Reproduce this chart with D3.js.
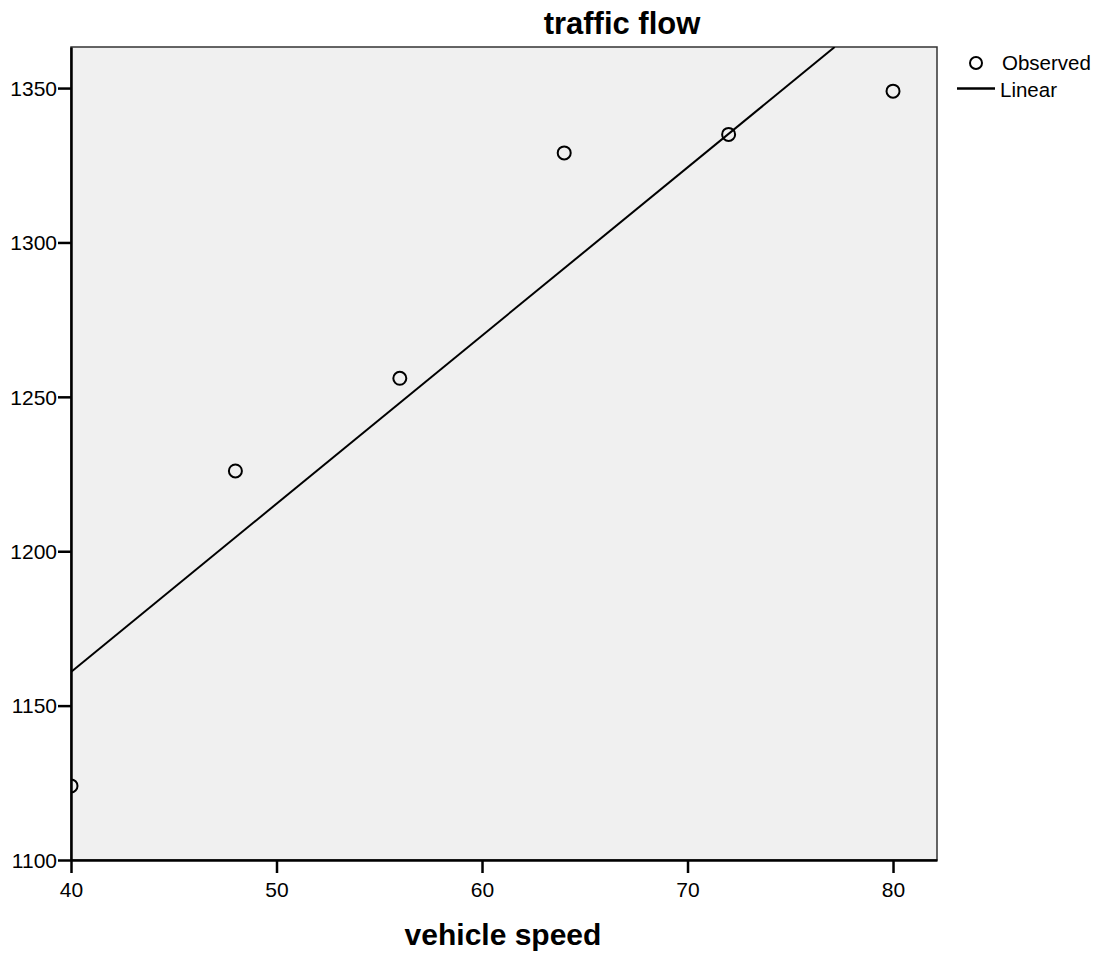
<!DOCTYPE html>
<html>
<head>
<meta charset="utf-8">
<script src="https://cdn.jsdelivr.net/npm/d3@7"></script>
<style>
  body { margin: 0; background: #fff; }
  text { font-family: "Liberation Sans", Arial, sans-serif; }
</style>
</head>
<body>
<svg id="chart"></svg>
<script>
// observed data
const speed = [40, 48, 56, 64, 72, 80];
const flow = [1124, 1226, 1256, 1329, 1335, 1349];
const xTicks = [40, 50, 60, 70, 80];
const yTicks = [1100, 1150, 1200, 1250, 1300, 1350];

const margin = { top: 47, right: 160, bottom: 96, left: 71 },
    width = 1097 - margin.left - margin.right,
    height = 956 - margin.top - margin.bottom;

const svg = d3.select("#chart")
    .attr("width", 1097)
    .attr("height", 956);

const g = svg.append("g")
    .attr("transform", `translate(${margin.left},${margin.top})`);

const x = d3.scaleLinear().domain([40, 82.14]).range([0, width]);
const y = d3.scaleLinear().domain([1100, 1363.3]).range([height, 0]);

// background
g.append("rect")
    .attr("width", width)
    .attr("height", height)
    .attr("fill", "#f0f0f0")
    .attr("stroke", "#333")
    .attr("stroke-width", 1.5);

// least squares fit
const mx = d3.mean(speed), my = d3.mean(flow);
const slope = d3.sum(speed, (d, i) => (d - mx) * (flow[i] - my)) / d3.sum(speed, d => (d - mx) ** 2);
const icpt = my - slope * mx;
const xTop = (y.domain()[1] - icpt) / slope;
const fit = [[40, icpt + slope * 40], [xTop, y.domain()[1]]];

g.append("defs").append("clipPath").attr("id", "clip")
    .append("rect").attr("width", width).attr("height", height);

g.append("path")
    .datum(fit)
    .attr("clip-path", "url(#clip)")
    .attr("fill", "none")
    .attr("stroke", "#000")
    .attr("stroke-width", 2)
    .attr("d", d3.line().x(d => x(d[0])).y(d => y(d[1])));

// points
g.append("g")
    .attr("clip-path", "url(#clip)")
    .selectAll("circle")
    .data(speed)
    .join("circle")
    .attr("cx", d => x(d))
    .attr("cy", (d, i) => y(flow[i]))
    .attr("r", 6.5)
    .attr("fill", "none")
    .attr("stroke", "#000")
    .attr("stroke-width", 2);

// axes
const xAxis = g.append("g")
    .attr("transform", `translate(0,${height})`)
    .call(d3.axisBottom(x).tickValues(xTicks).tickFormat(d3.format("d")).tickSize(13).tickSizeOuter(0));
const yAxis = g.append("g")
    .call(d3.axisLeft(y).tickValues(yTicks).tickFormat(d3.format("d")).tickSize(13).tickSizeOuter(0));

[xAxis, yAxis].forEach(a => {
    a.select(".domain").attr("stroke", "#000").attr("stroke-width", 2.5);
    a.selectAll(".tick line").attr("stroke", "#000").attr("stroke-width", 2.5);
    a.selectAll(".tick text").attr("fill", "#000").style("font-size", "21px")
        .style("font-family", "'Liberation Sans', Arial, sans-serif");
});
xAxis.selectAll(".tick text").attr("y", 22).attr("dy", "0.71em");
yAxis.selectAll(".tick text").attr("x", -14).attr("dy", "0.35em");

// title
svg.append("text")
    .attr("x", 622)
    .attr("y", 34)
    .attr("text-anchor", "middle")
    .style("font-size", "31px")
    .style("font-weight", "bold")
    .text("traffic flow");

svg.append("text")
    .attr("x", 503)
    .attr("y", 945)
    .attr("text-anchor", "middle")
    .style("font-size", "30px")
    .style("font-weight", "bold")
    .text("vehicle speed");

// legend
const leg = svg.append("g");
leg.append("circle")
    .attr("cx", 976).attr("cy", 63).attr("r", 6)
    .attr("fill", "none").attr("stroke", "#000").attr("stroke-width", 2);
leg.append("text").attr("x", 1002).attr("y", 70)
    .style("font-size", "20.5px").text("Observed");
leg.append("line")
    .attr("x1", 957).attr("x2", 995).attr("y1", 88.5).attr("y2", 88.5)
    .attr("stroke", "#000").attr("stroke-width", 2.5);
leg.append("text").attr("x", 1000).attr("y", 97)
    .style("font-size", "20.5px").text("Linear");
</script>
</body>
</html>
